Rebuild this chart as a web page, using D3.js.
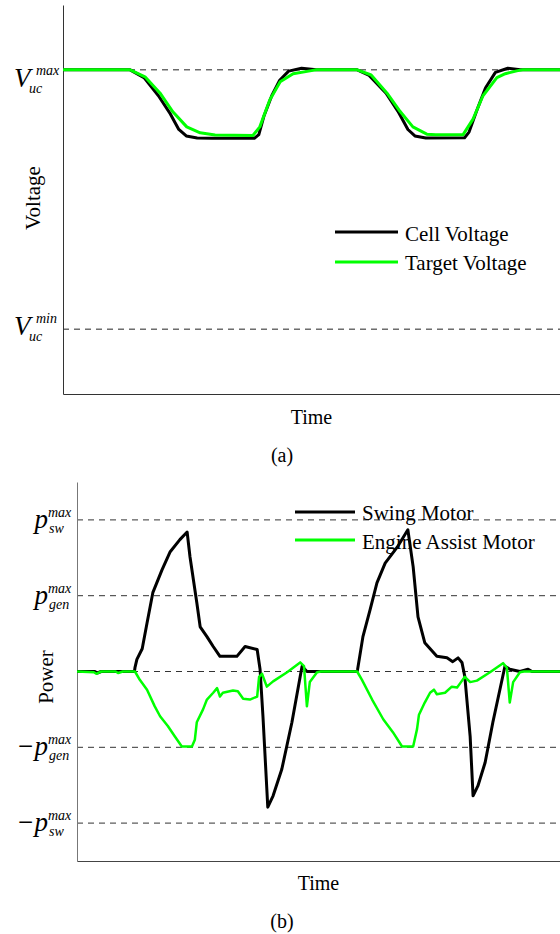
<!DOCTYPE html>
<html>
<head>
<meta charset="utf-8">
<script src="https://cdn.jsdelivr.net/npm/d3@7"></script>
<style>
  body { margin: 0; background: #fff; }
  text { font-family: "Liberation Serif", "Times New Roman", serif; fill: #000; }
</style>
</head>
<body>
<script>
// DATA (a): time in %, voltage relative to Vmin (0) .. Vmax (1)
var cellVoltage = [[0,1],[13.5,1],[16.3,0.97],[19.2,0.9],[21.6,0.83],[23.3,0.77],[24.8,0.745],[27,0.737],[30,0.736],[38.5,0.736],[39.4,0.75],[40.4,0.82],[42,0.9],[43.6,0.96],[45.4,0.995],[48,1.006],[51,1.0],[59.2,1],[61.5,0.98],[65,0.91],[67.4,0.84],[69.4,0.77],[70.8,0.745],[73,0.737],[80.8,0.738],[81.7,0.76],[83.2,0.84],[85,0.93],[87,0.99],[89.5,1.006],[92,1.0],[100,1]];
var targetVoltage = [[0,1],[13.5,1],[16.5,0.973],[19.5,0.911],[22.1,0.838],[24.9,0.78],[27.6,0.757],[30.6,0.749],[38.2,0.747],[39.6,0.78],[41.6,0.884],[43.7,0.954],[46.3,0.985],[49.7,0.996],[51,1],[59.2,1],[62,0.98],[65.2,0.91],[67.8,0.84],[70.4,0.78],[73.2,0.752],[75,0.75],[80.5,0.75],[82.5,0.81],[84.5,0.9],[87.3,0.97],[89,0.985],[91.3,0.996],[92.5,1],[100,1]];
var voltageTicks = [1, 0];
var voltageLabels = [["V", "max", "uc"], ["V", "min", "uc"]];

// DATA (b): power in units of p_gen^max (p_sw^max = 2)
var swingMotor = [[0,0],[3.7,0],[4.2,-0.02],[5,0],[11.9,0],[12,0.05],[12.4,0.16],[13.5,0.3],[14.5,0.64],[15.7,1.04],[17.6,1.34],[19.3,1.58],[21.3,1.74],[22.8,1.84],[23.4,1.51],[24.8,0.91],[25.5,0.59],[26.9,0.46],[28.2,0.33],[29.6,0.2],[33.1,0.2],[34.8,0.33],[37.3,0.29],[37.9,0.03],[38.5,-0.59],[39.3,-1.55],[39.5,-1.79],[40.6,-1.64],[42.4,-1.29],[44.5,-0.67],[46.2,-0.07],[46.6,0.07],[47.6,0],[58,0],[58.1,0.03],[59.2,0.46],[60.7,0.82],[62.1,1.17],[63.8,1.43],[66.3,1.64],[68.5,1.87],[69.6,1.38],[70.6,0.72],[72,0.38],[74.5,0.2],[76.6,0.18],[77.8,0.13],[78.9,0.18],[79.7,0.12],[80.3,-0.07],[81.4,-0.86],[82,-1.64],[83,-1.51],[84.5,-1.2],[86.1,-0.67],[88.6,0.07],[89.6,0.03],[91.7,0],[93.4,0.03],[94.2,0],[100,0]];
var engineAssist = [[0,0],[3.5,-0.01],[4,-0.03],[5,0],[8,0],[8.5,-0.02],[9.5,0],[12,0],[13,-0.11],[14.5,-0.24],[16.1,-0.46],[17.2,-0.59],[18.8,-0.72],[20.3,-0.86],[21.7,-0.99],[23.8,-0.99],[24.4,-0.9],[24.8,-0.67],[26.1,-0.5],[26.9,-0.37],[28.2,-0.28],[29,-0.22],[29.6,-0.33],[30.2,-0.28],[32.3,-0.25],[33.3,-0.26],[34.4,-0.36],[35.8,-0.37],[37.3,-0.33],[37.7,-0.07],[38.3,-0.03],[39.3,-0.2],[40.6,-0.13],[43.5,-0.01],[46.2,0.12],[47,0.07],[47.6,-0.46],[48.2,-0.14],[49.7,-0.01],[50.5,0],[58,0],[59,-0.11],[61.1,-0.37],[63.4,-0.63],[65.4,-0.8],[67.3,-0.99],[69.6,-0.99],[70.4,-0.76],[70.8,-0.57],[72,-0.41],[73.1,-0.28],[73.9,-0.24],[74.5,-0.3],[76.2,-0.28],[77.6,-0.2],[78.7,-0.21],[79.5,-0.14],[80.3,-0.07],[81.4,-0.14],[82.8,-0.12],[85.5,-0.01],[88.2,0.11],[89,0.05],[89.6,-0.41],[90.3,-0.14],[91.7,-0.01],[92.5,0],[100,0]];
var powerTicks = [2, 1, 0, -1, -2];
var powerLabels = [["p", "max", "sw"], ["p", "max", "gen"], null, ["\u2212p", "max", "gen"], ["\u2212p", "max", "sw"]];

var svg = d3.select("body").append("svg")
	.attr("width", 560)
	.attr("height", 934);

// label offsets from the dashed line: [main, sup, sub] baselines
var vOffsets = [[17, 5, 23], [6, -6, 12]];

// ---------- (a) VOLTAGE ----------
var xa = d3.scaleLinear().domain([0, 100]).range([63, 560]);
var ya = d3.scaleLinear().domain([-0.25, 1.25]).range([394, 5]);

var ga = svg.append("g");

ga.selectAll("line.ref")
	.data(voltageTicks)
	.enter().append("line")
	.attr("class", "ref")
	.attr("x1", xa(0)).attr("x2", xa(100))
	.attr("y1", function(d) { return ya(d); })
	.attr("y2", function(d) { return ya(d); })
	.attr("stroke", "#222")
	.attr("stroke-width", 1)
	.attr("stroke-dasharray", "6,5");

ga.append("g")
	.attr("transform", "translate(" + xa(0) + ",0)")
	.call(d3.axisLeft(ya).tickValues([]).tickSizeOuter(0))
	.select(".domain").attr("stroke", "#333");

ga.append("g")
	.attr("transform", "translate(0," + ya(-0.25) + ")")
	.call(d3.axisBottom(xa).tickValues([]).tickSizeOuter(0))
	.select(".domain").attr("stroke", "#333");

voltageTicks.forEach(function(t, i) {
	var lab = voltageLabels[i], y0 = ya(t), o = vOffsets[i];
	ga.append("text").attr("x", 14).attr("y", y0 + o[0])
		.style("font-style", "italic").style("font-size", "27px").text(lab[0]);
	ga.append("text").attr("x", 36).attr("y", y0 + o[1])
		.style("font-style", "italic").style("font-size", "14px").text(lab[1]);
	ga.append("text").attr("x", 29).attr("y", y0 + o[2])
		.style("font-style", "italic").style("font-size", "14px").text(lab[2]);
});

// LEGEND (a)
var legA = [["Cell Voltage", "#000"], ["Target Voltage", "#00ff00"]];
legA.forEach(function(d, i) {
	ga.append("line").attr("x1", 335).attr("x2", 398)
		.attr("y1", 232 + i * 30).attr("y2", 232 + i * 30)
		.attr("stroke", d[1]).attr("stroke-width", 3);
	ga.append("text").attr("x", 405).attr("y", 241 + i * 29)
		.style("font-size", "21px").text(d[0]);
});

var lineA = d3.line()
	.x(function(d) { return xa(d[0]); })
	.y(function(d) { return ya(d[1]); });

ga.append("path").datum(cellVoltage)
	.attr("d", lineA).attr("fill", "none")
	.attr("stroke", "#000").attr("stroke-width", 3).attr("stroke-linejoin", "round");
ga.append("path").datum(targetVoltage)
	.attr("d", lineA).attr("fill", "none")
	.attr("stroke", "#00ff00").attr("stroke-width", 3).attr("stroke-linejoin", "round");

// AXIS LABELS (a)
ga.append("text").attr("x", (xa(0) + xa(100)) / 2).attr("y", 424)
	.attr("text-anchor", "middle").style("font-size", "20px").text("Time");
ga.append("text").attr("transform", "translate(40,198) rotate(-90)")
	.attr("text-anchor", "middle").style("font-size", "21px").text("Voltage");
ga.append("text").attr("x", 282).attr("y", 462)
	.attr("text-anchor", "middle").style("font-size", "20px").text("(a)");

// ---------- (b) POWER ----------
var xb = d3.scaleLinear().domain([0, 100]).range([77, 560]);
var yb = d3.scaleLinear().domain([-2.5, 2.5]).range([861, 482]);

var gb = svg.append("g");

gb.selectAll("line.ref")
	.data(powerTicks)
	.enter().append("line")
	.attr("class", "ref")
	.attr("x1", xb(0)).attr("x2", xb(100))
	.attr("y1", function(d) { return yb(d); })
	.attr("y2", function(d) { return yb(d); })
	.attr("stroke", "#333")
	.attr("stroke-width", 1)
	.attr("stroke-dasharray", "6,5");

gb.append("g")
	.attr("transform", "translate(" + xb(0) + ",0)")
	.call(d3.axisLeft(yb).tickValues([]).tickSizeOuter(0))
	.select(".domain").attr("stroke", "#777");

gb.append("g")
	.attr("transform", "translate(0," + yb(-2.5) + ")")
	.call(d3.axisBottom(xb).tickValues([]).tickSizeOuter(0))
	.select(".domain").attr("stroke", "#444");

powerTicks.forEach(function(t, i) {
	var lab = powerLabels[i];
	if (!lab) return;
	var y0 = yb(t);
	gb.append("text").attr("x", 48).attr("y", y0 + 8)
		.attr("text-anchor", "end")
		.style("font-style", "italic").style("font-size", "27px").text(lab[0]);
	gb.append("text").attr("x", 48).attr("y", y0 - 3)
		.style("font-style", "italic").style("font-size", "14px").text(lab[1]);
	gb.append("text").attr("x", 49).attr("y", y0 + 13)
		.style("font-style", "italic").style("font-size", "14px").text(lab[2]);
});

// LEGEND (b)
var legB = [["Swing Motor", "#000"], ["Engine Assist Motor", "#00ff00"]];
legB.forEach(function(d, i) {
	gb.append("line").attr("x1", 295).attr("x2", 355)
		.attr("y1", 512 + i * 28).attr("y2", 512 + i * 28)
		.attr("stroke", d[1]).attr("stroke-width", 3);
	gb.append("text").attr("x", 362).attr("y", 520 + i * 29)
		.style("font-size", "21px").text(d[0]);
});

var lineB = d3.line()
	.x(function(d) { return xb(d[0]); })
	.y(function(d) { return yb(d[1]); });

gb.append("path").datum(swingMotor)
	.attr("d", lineB).attr("fill", "none")
	.attr("stroke", "#000").attr("stroke-width", 3).attr("stroke-linejoin", "round");
gb.append("path").datum(engineAssist)
	.attr("d", lineB).attr("fill", "none")
	.attr("stroke", "#00ff00").attr("stroke-width", 2.5).attr("stroke-linejoin", "round");

// AXIS LABELS (b)
gb.append("text").attr("x", (xb(0) + xb(100)) / 2).attr("y", 890)
	.attr("text-anchor", "middle").style("font-size", "20px").text("Time");
gb.append("text").attr("transform", "translate(53,677) rotate(-90)")
	.attr("text-anchor", "middle").style("font-size", "21px").text("Power");
gb.append("text").attr("x", 282).attr("y", 928)
	.attr("text-anchor", "middle").style("font-size", "20px").text("(b)");
</script>
</body>
</html>
